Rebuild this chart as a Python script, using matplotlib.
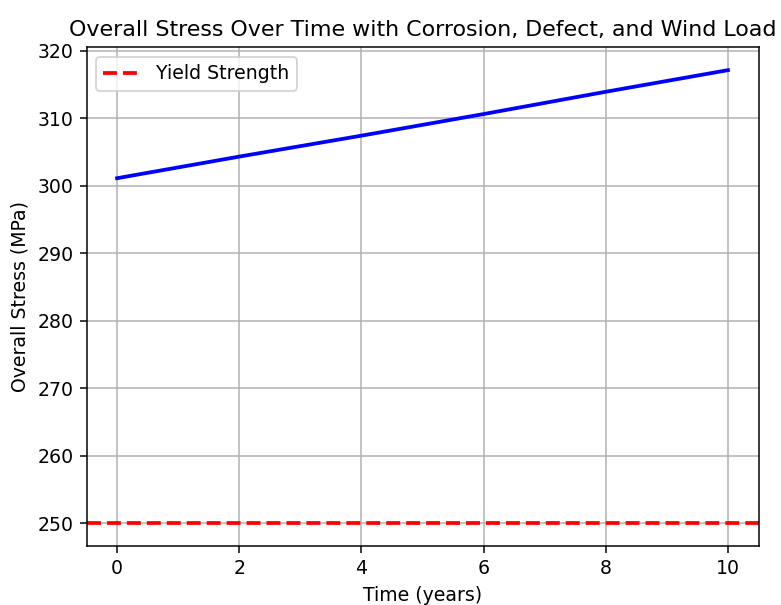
import matplotlib
matplotlib.use("Agg")
import matplotlib.pyplot as plt

# stress at each grid year
years = [0, 2, 4, 6, 8, 10]
stress = [301.1, 304.3, 307.4, 310.6, 313.9, 317.1]
yieldStrength = 250

DPI = 135.5
fig = plt.figure(figsize=(781 / DPI, 605 / DPI), dpi=DPI)
ax = fig.add_axes([0.1108, 0.0975, 0.9712 - 0.1108, 0.9215 - 0.0975])

ax.plot(years, stress, color='b', linewidth=2)
ax.axhline(yieldStrength, color='r', linestyle='--', linewidth=2, label='Yield Strength')

ax.set_title('Overall Stress Over Time with Corrosion, Defect, and Wind Load', fontsize=11.75)
ax.set_xlabel('Time (years)')
ax.set_ylabel('Overall Stress (MPa)')
ax.legend(loc='upper left')
ax.grid(True)

fig.savefig('out.png', dpi=DPI)
